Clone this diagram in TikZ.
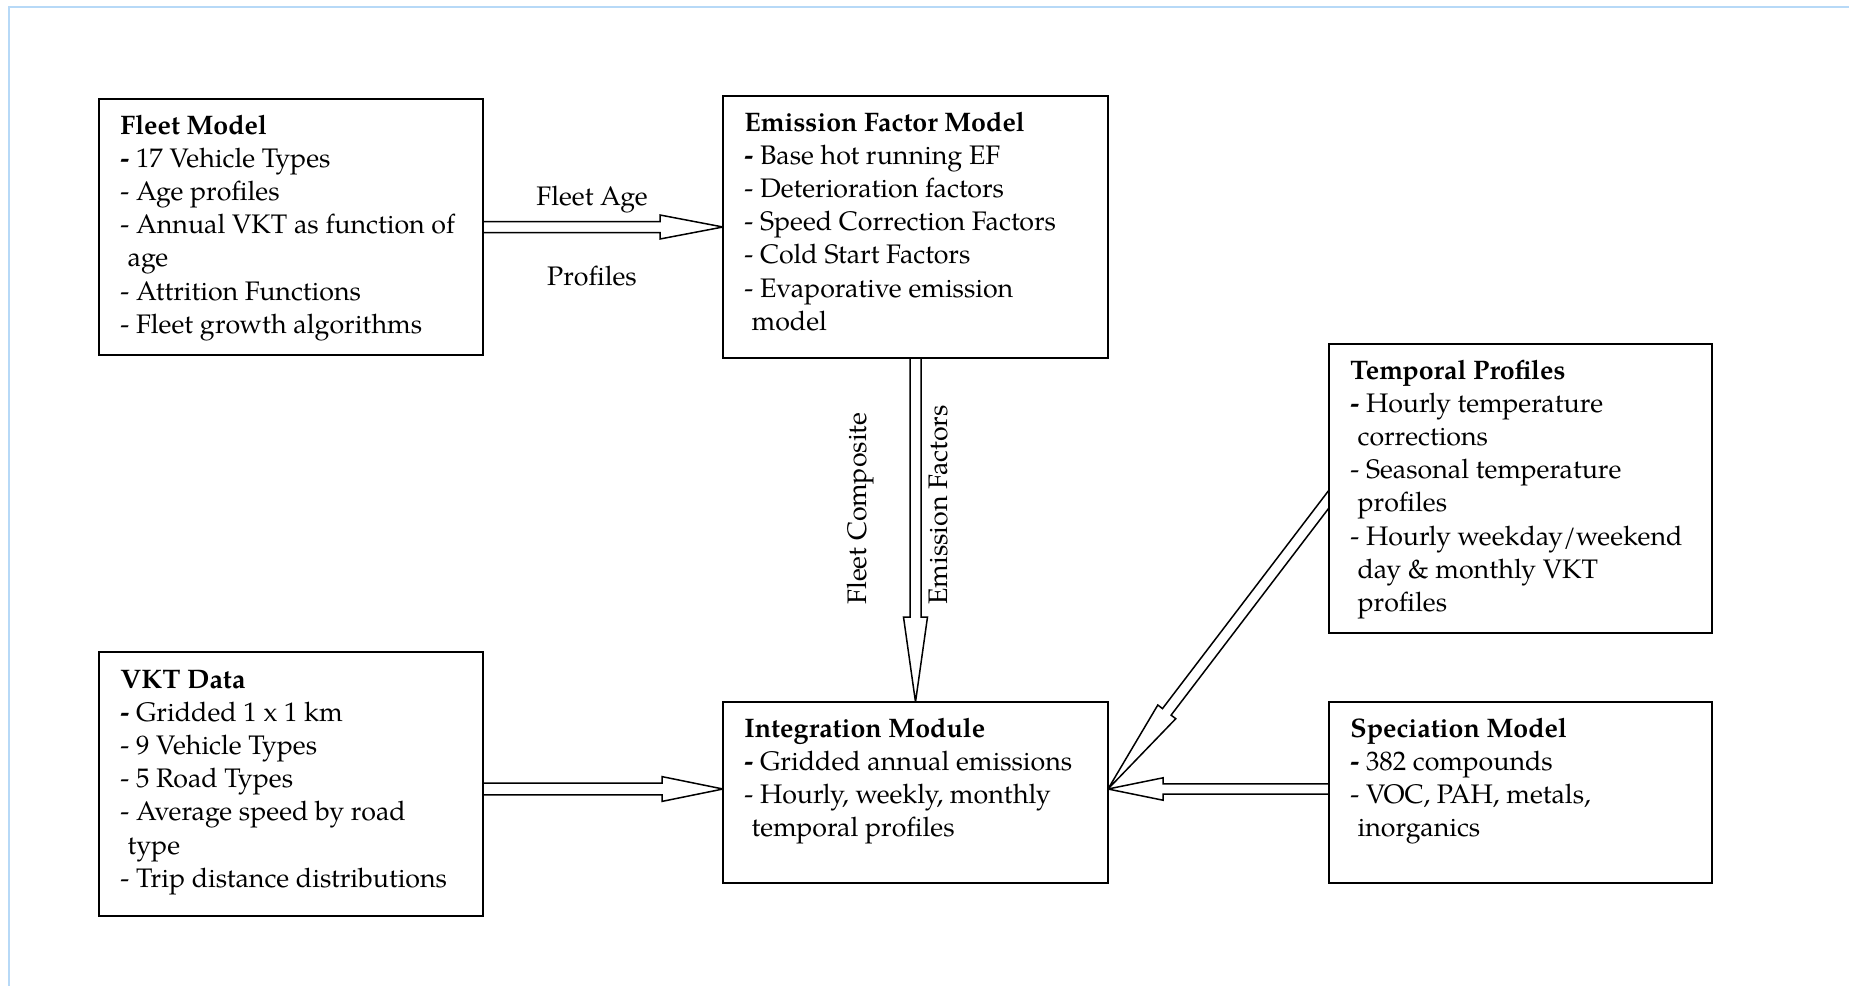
\documentclass[tikz,border=0pt]{standalone}
\usepackage{fontspec}
\setmainfont{texgyrepagella}[Extension=.otf,UprightFont=*-regular,BoldFont=*-bold,ItalicFont=*-italic,BoldItalicFont=*-bolditalic]
\usetikzlibrary{calc,backgrounds}
\definecolor{framecol}{RGB}{183,217,247}
\newcommand\fs{\fontsize{13.4pt}{16.6pt}\selectfont}
\newcommand\hang{\hspace*{3.6pt}}
% name, start, end, head length, head half width, shaft half width
\newcommand\blockarr[6]{%
  \coordinate (#1-h) at ($(#3)!#4!(#2)$);
  \draw[arr] ($(#2)!#6!90:(#3)$) -- ($(#1-h)!#6!90:(#3)$) -- ($(#1-h)!#5!90:(#3)$) -- (#3)
     -- ($(#1-h)!#5!-90:(#3)$) -- ($(#1-h)!#6!-90:(#3)$) -- ($(#2)!#6!-90:(#3)$) -- cycle;}
\tikzset{
  box/.style={draw=black, line width=1pt, inner sep=0pt, outer sep=0pt, fill=white},
  txt/.style={inner sep=0pt, anchor=base west, font=\fs},
  lbl/.style={inner sep=0pt, font=\fs},
  arr/.style={draw=black, line width=0.75pt, fill=white, line join=miter},
  frame/.style={draw=framecol, line width=1pt}
}
\begin{document}
\begin{tikzpicture}[x=0.5pt,y=-0.5pt]
\useasboundingbox (0,0) rectangle (1849,986);
\draw[frame] (9,986) -- (9,7) -- (1849,7);

% boxes
\node[box, minimum width=192pt, minimum height=128pt] (fleet) at (291,227) {};
\node[box, minimum width=192.5pt, minimum height=131pt] (ef) at (915.5,227) {};
\node[box, minimum width=191.5pt, minimum height=144.5pt] (temp) at (1520.5,488.5) {};
\node[box, minimum width=192pt, minimum height=132pt] (vkt) at (291,784) {};
\node[box, minimum width=192.5pt, minimum height=90.5pt] (integ) at (915.5,792.5) {};
\node[box, minimum width=191.5pt, minimum height=90.5pt] (spec) at (1520.5,792.5) {};

% texts
\node[txt] (fleetT) at ($(fleet.north west)+(21,35)$) {\parbox[t]{200pt}{\raggedright
\textbf{Fleet Model}\\
\textbf{-} 17 Vehicle Types\\
- Age profiles\\
- Annual VKT as function of\\
\hang age\\
- Attrition Functions\\
- Fleet growth algorithms}};
\node[txt] (efT) at ($(ef.north west)+(21,35)$) {\parbox[t]{200pt}{\raggedright
\textbf{Emission Factor Model}\\
\textbf{-} Base hot running EF\\
- Deterioration factors\\
- Speed Correction Factors\\
- Cold Start Factors\\
- Evaporative emission\\
\hang model}};
\node[txt] (tempT) at ($(temp.north west)+(21,35)$) {\parbox[t]{200pt}{\raggedright
\textbf{Temporal Profiles}\\
\textbf{-} Hourly temperature\\
\hang corrections\\
- Seasonal temperature\\
\hang profiles\\
- Hourly weekday/weekend\\
\hang day \& monthly VKT\\
\hang profiles}};
\node[txt] (vktT) at ($(vkt.north west)+(21,36)$) {\parbox[t]{200pt}{\raggedright
\textbf{VKT Data}\\
\textbf{-} Gridded 1 x 1 km\\
- 9 Vehicle Types\\
- 5 Road Types\\
- Average speed by road\\
\hang type\\
- Trip distance distributions}};
\node[txt] (integT) at ($(integ.north west)+(21,35)$) {\parbox[t]{200pt}{\raggedright
\textbf{Integration Module}\\
\textbf{-} Gridded annual emissions\\
- Hourly, weekly, monthly\\
\hang temporal profiles}};
\node[txt] (specT) at ($(spec.north west)+(21,35)$) {\parbox[t]{200pt}{\raggedright
\textbf{Speciation Model}\\
\textbf{-} 382 compounds\\
- VOC, PAH, metals,\\
\hang inorganics}};

% connector end points
\coordinate (inW) at ($(integ.west)+(0,-3.5)$);
\coordinate (inE) at ($(integ.east)+(0,-3.5)$);
\coordinate (vkO) at (vkt.east |- inW);
\coordinate (spO) at (spec.west |- inE);
\coordinate (tpO) at ($(temp.west)+(8,0)$);

\begin{pgfonlayer}{background}
\blockarr{a1}{fleet.east}{ef.west}{31.5pt}{6pt}{2.75pt}
\blockarr{a2}{ef.south}{integ.north}{42.5pt}{6pt}{2.75pt}
\blockarr{a3}{vkO}{inW}{30.5pt}{6.2pt}{2.9pt}
\blockarr{a4}{spO}{inE}{27.5pt}{5.6pt}{2.6pt}
\blockarr{a5}{tpO}{inE}{48.5pt}{5.65pt}{2.7pt}
\end{pgfonlayer}

% labels
\node[lbl, anchor=base] (lfa) at (592,205) {Fleet Age};
\node[lbl, anchor=base] (lpr) at (592,285) {Profiles};
\node[lbl, rotate=90, anchor=base west] (lfc) at (866,605) {Fleet Composite};
\node[lbl, rotate=90, anchor=base west] (lef) at (947,605) {Emission Factors};
\end{tikzpicture}
\end{document}
